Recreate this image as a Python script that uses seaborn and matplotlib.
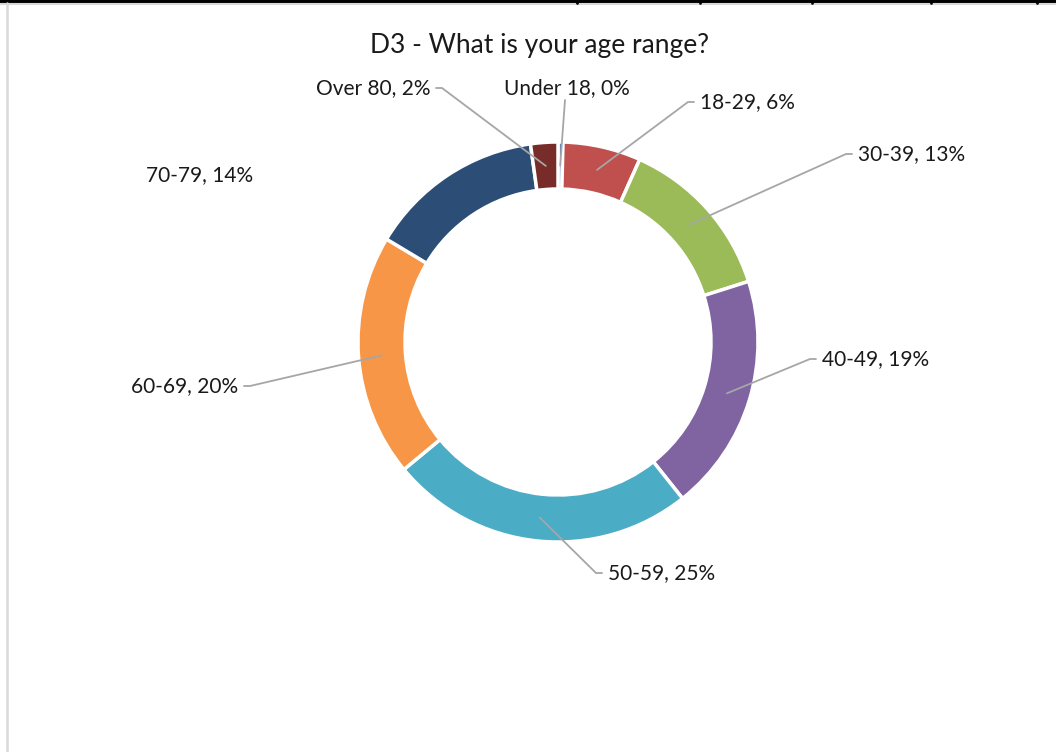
import numpy as np
import matplotlib
matplotlib.use("Agg")
import matplotlib.pyplot as plt
import seaborn as sns

# Survey responses: age range shares (percent)
categories = ["Under 18", "18-29", "30-39", "40-49", "50-59", "60-69", "70-79", "Over 80"]
shares = [0.4, 6.3, 13.4, 19.2, 24.7, 19.6, 14.2, 2.2]
labels = ["Under 18, 0%", "18-29, 6%", "30-39, 13%", "40-49, 19%",
          "50-59, 25%", "60-69, 20%", "70-79, 14%", "Over 80, 2%"]
colors = ["#4F81BD", "#C0504D", "#9BBB59", "#8064A2",
          "#4BACC6", "#F79646", "#2C4D75", "#772C2A"]

sns.set_theme(style="white")
plt.rcParams["font.family"] = ["Lato", "DejaVu Sans"]

W, H = 1056, 752
fig = plt.figure(figsize=(W / 100, H / 100), dpi=100)
ax = fig.add_axes([0, 0, 1, 1])


def Y(y):
    """Convert a distance from the top edge into axis units."""
    return H - y


cx, cy = 558, Y(342)
r_out, width = 200, 47

wedges, _ = ax.pie(shares, colors=colors, startangle=90, counterclock=False,
                   center=(cx, cy), radius=r_out, frame=True,
                   wedgeprops=dict(width=width, edgecolor="white", linewidth=2.5))
ax.set_xlim(0, W)
ax.set_ylim(0, H)
ax.set_axis_off()
ax.set_aspect("equal")

# Leader-line anchors: middle of the ring along each wedge's mid-angle
r_mid = r_out - width / 2
total = sum(shares)
cum = np.cumsum([0] + shares[:-1])
mid_frac = (cum + np.array(shares) / 2) / total
theta = 2 * np.pi * mid_frac  # clockwise from 12 o'clock
anc_x = cx + r_mid * np.sin(theta)
anc_y = cy + r_mid * np.cos(theta)

# label placement: (text x, text y from top, ha, elbow x or None, draw leader)
place = {
    "Under 18": (567, 88, "center", None, True),
    "18-29": (700, 102, "left", 688, True),
    "30-39": (858, 154, "left", 846, True),
    "40-49": (822, 359, "left", 810, True),
    "50-59": (608, 573, "left", 596, True),
    "60-69": (238, 386, "right", 250, True),
    "70-79": (200, 175, "center", None, False),
    "Over 80": (430, 88, "right", 442, True),
}

lc = "#A6A6A6"
for i, cat in enumerate(categories):
    tx, ty, ha, ex, lead = place[cat]
    ax.text(tx, Y(ty), labels[i], ha=ha, va="center", fontsize=15, color="#1a1a1a")
    if not lead:
        continue
    if ex is None:
        ax.plot([tx - 2, anc_x[i]], [Y(ty + 12), anc_y[i]], color=lc, lw=1.3)
    else:
        end = tx - 6 if ha == "left" else tx + 6
        ax.plot([end, ex, anc_x[i]], [Y(ty), Y(ty), anc_y[i]], color=lc, lw=1.3)

ax.text(540, Y(45), "D3 - What is your age range?", ha="center", va="center",
        fontsize=19, color="#1a1a1a")

# sheet grid edges around the chart area
ax.plot([0, W], [Y(1), Y(1)], color="black", lw=2.2, clip_on=False)
ax.plot([0, W], [Y(3.5), Y(3.5)], color="#D9D9D9", lw=1.5)
ax.plot([7, 7], [Y(3), 0], color="#D9D9D9", lw=1.8)
for gx in [577, 700, 812, 931, 1037]:
    ax.plot([gx, gx], [Y(0), Y(3)], color="black", lw=2)

fig.savefig("out.png", dpi=100, facecolor="white")
